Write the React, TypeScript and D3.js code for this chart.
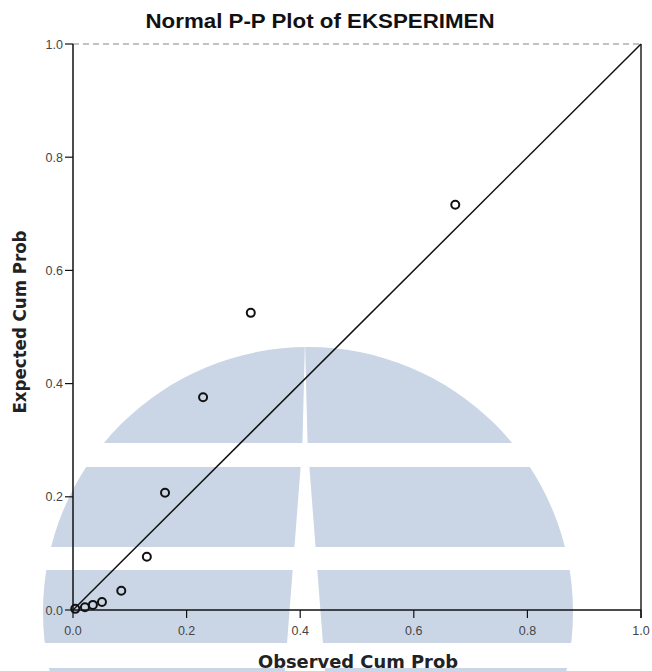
import React from "react";
import * as d3 from "d3";

const observedCumProb = [0.004, 0.021, 0.035, 0.051, 0.085, 0.130, 0.162, 0.229, 0.313, 0.673];
const expectedCumProb = [0.002, 0.005, 0.009, 0.014, 0.034, 0.094, 0.207, 0.376, 0.525, 0.716];
const xTicks = [0, 0.2, 0.4, 0.6, 0.8, 1.0];
const yTicks = [0, 0.2, 0.4, 0.6, 0.8, 1.0];
const titleText = "Normal P-P Plot of EKSPERIMEN";
const xTitle = "Observed Cum Prob";
const yTitle = "Expected Cum Prob";

const W = 652;
const H = 671;
const left = 73, right = 641, top = 44, bottom = 610;

export default function App() {
  const x = d3.scaleLinear().domain([0, 1]).range([left, right]);
  const y = d3.scaleLinear().domain([0, 1]).range([bottom, top]);
  const fmt = d3.format(".1f");

  // watermark geometry
  const cx = 308, cy = 612, R = 265;
  const tipX = 305, tipY = 410, slope = 0.077;
  const bands: [number, number][] = [[340, 443], [467, 547], [570, 643], [668, 700]];
  const gapHalf = (yy: number) => Math.max(0, (yy - tipY) * slope);

  const diag = d3.line<number>().x((d) => x(d)).y((d) => y(d))([0, 1]) || "";

  return (
    <svg width={W} height={H} style={{ position: "absolute", left: 0, top: 0, background: "#fff" }}>
      <defs>
        <clipPath id="wmclip">
          <circle cx={cx} cy={cy} r={R} />
        </clipPath>
      </defs>
      <g clipPath="url(#wmclip)" fill="#cad6e6">
        {bands.map(([y1, y2], i) => (
          <g key={i}>
            <polygon points={`0,${y1} ${tipX - gapHalf(y1)},${y1} ${tipX - gapHalf(y2)},${y2} 0,${y2}`} />
            <polygon points={`${tipX + gapHalf(y1)},${y1} ${W},${y1} ${W},${y2} ${tipX + gapHalf(y2)},${y2}`} />
          </g>
        ))}
      </g>

      <text x={320} y={28} textAnchor="middle" fontFamily="Liberation Sans, Arial, sans-serif" fontSize={20} fontWeight="bold" fill="#111" textLength={349} lengthAdjust="spacingAndGlyphs">
        {titleText}
      </text>

      {/* frame */}
      <line x1={left} x2={right} y1={top} y2={top} stroke="#888" strokeWidth={1.2} strokeDasharray="6,4" />
      <line x1={right} x2={right} y1={top} y2={bottom + 8} stroke="#222" strokeWidth={1.5} />
      <line x1={left} x2={left} y1={top} y2={bottom} stroke="#111" strokeWidth={1.5} />
      <line x1={left} x2={right} y1={bottom} y2={bottom} stroke="#111" strokeWidth={1.5} />

      {/* y axis ticks */}
      {yTicks.map((t) => (
        <g key={"y" + t}>
          <line x1={left - 8} x2={left} y1={y(t)} y2={y(t)} stroke="#111" strokeWidth={1.2} />
          <text x={left - 10} y={y(t) + 4.5} textAnchor="end" fontFamily="Liberation Sans, Arial, sans-serif" fontSize={12.5} fill="#444">
            {fmt(t)}
          </text>
        </g>
      ))}

      {/* x axis ticks */}
      {xTicks.map((t) => (
        <g key={"x" + t}>
          <line x1={x(t)} x2={x(t)} y1={bottom} y2={bottom + 8} stroke="#111" strokeWidth={1.2} />
          <text x={x(t)} y={bottom + 25} textAnchor="middle" fontFamily="Liberation Sans, Arial, sans-serif" fontSize={12.5} fill="#444">
            {fmt(t)}
          </text>
        </g>
      ))}

      <path d={diag} stroke="#111" strokeWidth={1.5} fill="none" />

      {observedCumProb.map((o, i) => (
        <circle key={i} cx={x(o)} cy={y(expectedCumProb[i])} r={4} fill="none" stroke="#111" strokeWidth={2} />
      ))}

      <text x={358} y={668} textAnchor="middle" fontFamily="DejaVu Sans, sans-serif" fontSize={17} fontWeight="bold" fill="#222" textLength={200} lengthAdjust="spacingAndGlyphs">
        {xTitle}
      </text>
      <text transform={`translate(26,${322}) rotate(-90)`} textAnchor="middle" fontFamily="DejaVu Sans, sans-serif" fontSize={17} fontWeight="bold" fill="#222" textLength={183} lengthAdjust="spacingAndGlyphs">
        {yTitle}
      </text>
    </svg>
  );
}
